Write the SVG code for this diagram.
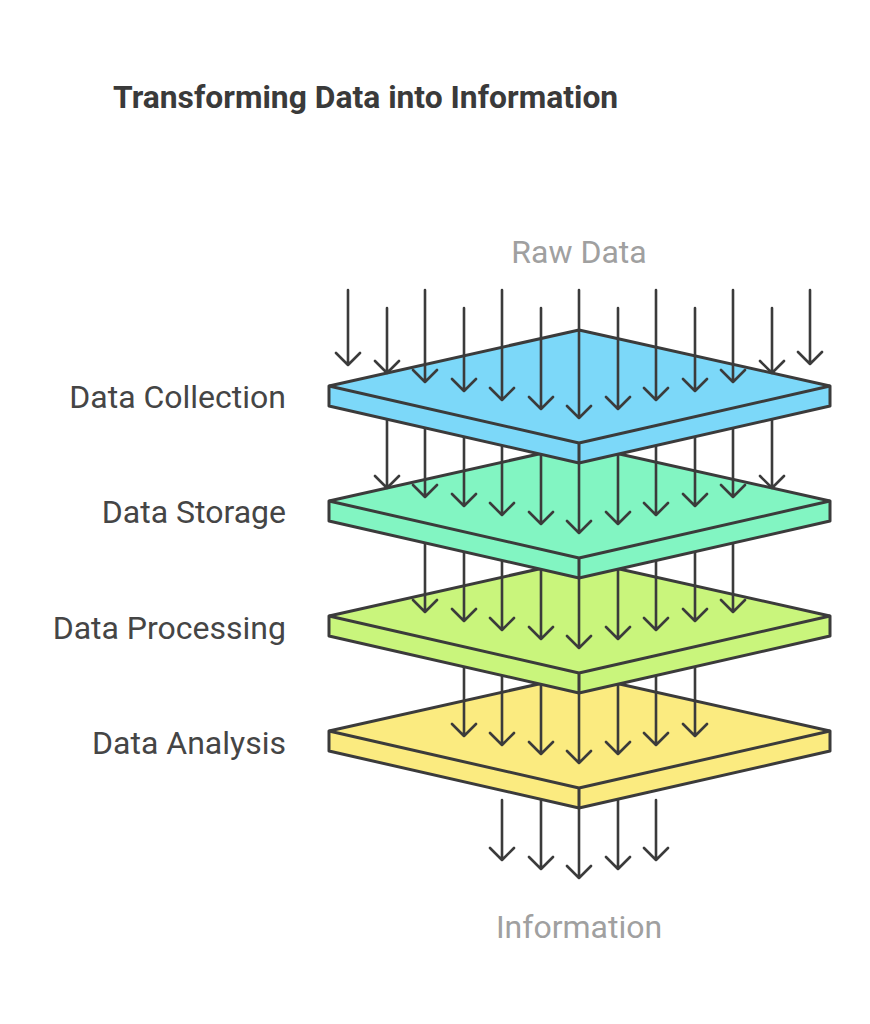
<svg xmlns="http://www.w3.org/2000/svg" width="870" height="1024" viewBox="0 0 870 1024">
<style>
.p{stroke:#3b3b3b;stroke-width:3;stroke-linejoin:round}
.a{stroke:#3b3b3b;stroke-width:2.6;fill:none;stroke-linecap:round;stroke-linejoin:round}
.l{font-family:Roboto,'Liberation Sans',sans-serif;font-size:32px;fill:#454545;text-anchor:end}
.g{font-family:Roboto,'Liberation Sans',sans-serif;font-size:32px;fill:#a0a0a0;text-anchor:middle}
</style>
<defs>
<g id="plate"><path class="p" d="M329,386 L579,330 L830,386 L830,406 L579,463 L329,406 Z"/><path class="p" fill="none" d="M329,386 L579,443 L830,386 M579,443 L579,463"/></g>
</defs>
<rect width="870" height="1024" fill="#fff"/>
<text x="113" y="108" font-family="Roboto,'Liberation Sans',sans-serif" font-weight="bold" font-size="31.8" fill="#3a3a3a">Transforming Data into Information</text>
<text class="g" x="579" y="263">Raw Data</text>
<text class="g" x="579" y="938">Information</text>
<g id="connectors-out">
<path class="a" d="M502,800V860M490,848L502,860L514,848M541,800V869M529,857L541,869L553,857M579,800V878M567,866L579,878L591,866M618,800V869M606,857L618,869L630,857M656,800V860M644,848L656,860L668,848"/>
</g>
<g id="data-analysis"><use href="#plate" fill="#fbeb80" transform="translate(0,345)"/><text class="l" x="286" y="754">Data Analysis</text></g>
<g id="connectors-4">
<path class="a" d="M464,650V736M452,724L464,736L476,724M502,650V745M490,733L502,745L514,733M541,650V754M529,742L541,754L553,742M579,650V763M567,751L579,763L591,751M618,650V754M606,742L618,754L630,742M656,650V745M644,733L656,745L668,733M695,650V736M683,724L695,736L707,724"/>
</g>
<g id="data-processing"><use href="#plate" fill="#c9f57c" transform="translate(0,230)"/><text class="l" x="286" y="639">Data Processing</text></g>
<g id="connectors-3">
<path class="a" d="M425,535V612M413,600L425,612L437,600M464,535V621M452,609L464,621L476,609M502,535V630M490,618L502,630L514,618M541,535V639M529,627L541,639L553,627M579,535V648M567,636L579,648L591,636M618,535V639M606,627L618,639L630,627M656,535V630M644,618L656,630L668,618M695,535V621M683,609L695,621L707,609M733,535V612M721,600L733,612L745,600"/>
</g>
<g id="data-storage"><use href="#plate" fill="#82f5c2" transform="translate(0,115)"/><text class="l" x="286" y="523">Data Storage</text></g>
<g id="connectors-2">
<path class="a" d="M387,420V488M375,476L387,488L399,476M425,420V497M413,485L425,497L437,485M464,420V506M452,494L464,506L476,494M502,420V515M490,503L502,515L514,503M541,420V524M529,512L541,524L553,512M579,420V533M567,521L579,533L591,521M618,420V524M606,512L618,524L630,512M656,420V515M644,503L656,515L668,503M695,420V506M683,494L695,506L707,494M733,420V497M721,485L733,497L745,485M772,420V488M760,476L772,488L784,476"/>
</g>
<g id="data-collection"><use href="#plate" fill="#7cd8f9"/><text class="l" x="286" y="408">Data Collection</text></g>
<g id="connectors-1">
<path class="a" d="M348,290V365M336,353L348,365L360,353M387,308V373M375,361L387,373L399,361M425,290V382M413,370L425,382L437,370M464,308V391M452,379L464,391L476,379M502,290V400M490,388L502,400L514,388M541,308V409M529,397L541,409L553,397M579,290V418M567,406L579,418L591,406M618,308V409M606,397L618,409L630,397M656,290V400M644,388L656,400L668,388M695,308V391M683,379L695,391L707,379M733,290V382M721,370L733,382L745,370M772,308V373M760,361L772,373L784,361M810,290V364M798,352L810,364L822,352"/>
</g>
</svg>
